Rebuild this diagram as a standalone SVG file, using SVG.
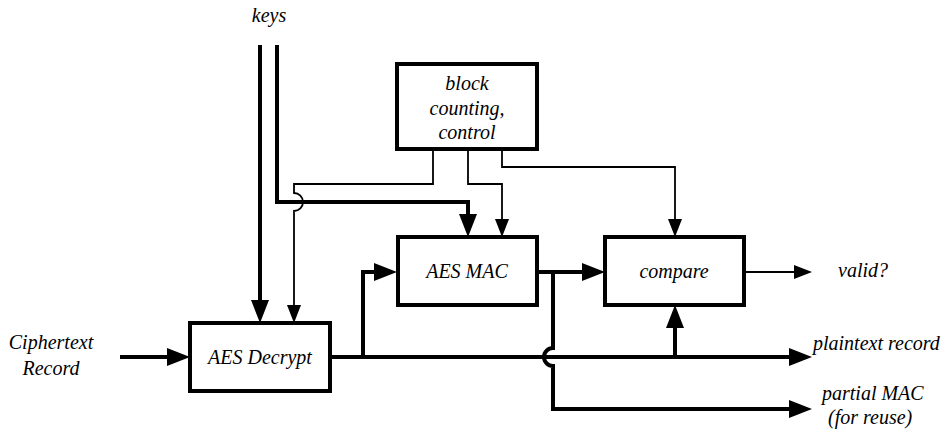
<svg xmlns="http://www.w3.org/2000/svg" width="947" height="432" viewBox="0 0 947 432">
  <style>
    .box { fill: #ffffff; stroke: #000000; stroke-width: 4; }
    .thick { fill: none; stroke: #000000; stroke-width: 4; }
    .thin { fill: none; stroke: #000000; stroke-width: 1.8; }
    text { font-family: 'Liberation Serif', 'DejaVu Serif', serif; font-style: italic; font-size: 20px; fill: #000000; }
    .lbl { text-anchor: middle; }
    .lbl-l { text-anchor: start; }
  </style>
  <defs>
    <marker id="arrowThick" markerUnits="userSpaceOnUse" markerWidth="24" markerHeight="18" viewBox="0 0 23 18" refX="0" refY="9" orient="auto">
      <path d="M0,0 L23,9 L0,18 Z" fill="#000000"/>
    </marker>
    <marker id="arrowThin" markerUnits="userSpaceOnUse" markerWidth="18" markerHeight="14" viewBox="0 0 18 14" refX="0" refY="7" orient="auto">
      <path d="M0,0 L18,7 L0,14 Z" fill="#000000"/>
    </marker>
  </defs>

  <rect width="947" height="432" fill="#ffffff"/>

  <g id="connectors">
    <!-- ciphertext input -->
    <path class="thick" d="M120,357 H167" marker-end="url(#arrowThick)"/>
    <!-- key lines -->
    <path class="thick" d="M260,45 V300" marker-end="url(#arrowThick)"/>
    <path class="thick" d="M277,45 V202 H468 V214" marker-end="url(#arrowThick)"/>
    <!-- control lines -->
    <path class="thin" d="M433,149 V184 H294 V193 A9,9 0 0 1 294,211 V305" marker-end="url(#arrowThin)"/>
    <path class="thin" d="M468,149 V184 H502 V219" marker-end="url(#arrowThin)"/>
    <path class="thin" d="M502,149 V167 H675 V219" marker-end="url(#arrowThin)"/>
    <!-- plaintext data path -->
    <path class="thick" d="M330,357 H789" marker-end="url(#arrowThick)"/>
    <path class="thick" d="M363,357 V272 H374" marker-end="url(#arrowThick)"/>
    <path class="thick" d="M675,357 V328" marker-end="url(#arrowThick)"/>
    <!-- MAC output -->
    <path class="thick" d="M537,272 H582" marker-end="url(#arrowThick)"/>
    <path class="thick" d="M553,272 V348 A9,9 0 0 0 553,366 V409 H789" marker-end="url(#arrowThick)"/>
    <!-- result -->
    <path class="thin" d="M744,272 H794" marker-end="url(#arrowThin)"/>
  </g>

  <g id="control">
    <rect class="box" x="397" y="64" width="140" height="85"/>
    <text class="lbl" x="467" y="90">block</text>
    <text class="lbl" x="467" y="115">counting,</text>
    <text class="lbl" x="467" y="139">control</text>
  </g>

  <g id="aes-decrypt">
    <rect class="box" x="190" y="323" width="140" height="68"/>
    <text class="lbl" x="260" y="364">AES Decrypt</text>
  </g>

  <g id="aes-mac">
    <rect class="box" x="398" y="237" width="139" height="68"/>
    <text class="lbl" x="467" y="278">AES MAC</text>
  </g>

  <g id="compare">
    <rect class="box" x="605" y="237" width="139" height="68"/>
    <text class="lbl" x="674" y="278">compare</text>
  </g>

  <g id="labels">
    <text class="lbl" x="269" y="22">keys</text>
    <text class="lbl" x="51" y="349">Ciphertext</text>
    <text class="lbl" x="51" y="375">Record</text>
    <text class="lbl-l" x="838" y="277">valid?</text>
    <text class="lbl-l" x="813" y="350">plaintext record</text>
    <text class="lbl-l" x="822" y="400">partial MAC</text>
    <text class="lbl-l" x="828" y="424">(for reuse)</text>
  </g>
</svg>
